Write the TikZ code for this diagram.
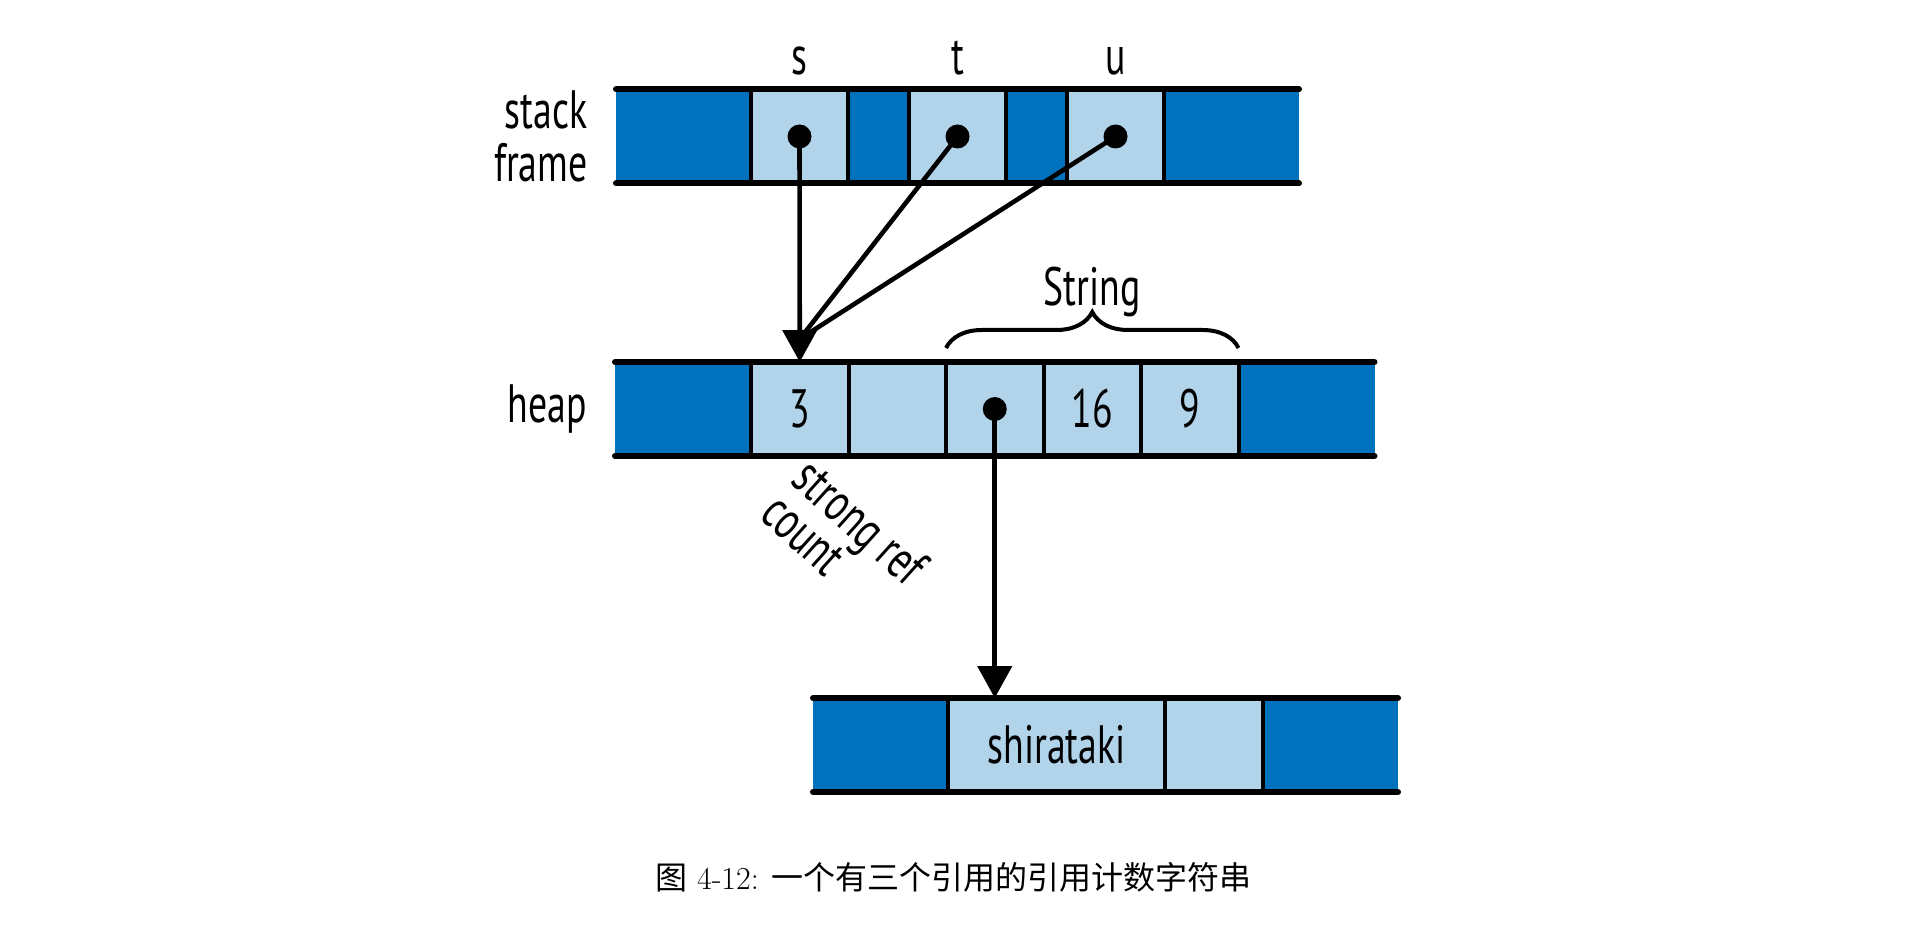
\documentclass[tikz,border=0pt]{standalone}
\usepackage{fontspec}
\newfontfamily\diagfont[FakeStretch=0.7]{PT Sans}
\newfontfamily\cjk{Noto Sans CJK SC}
\usetikzlibrary{arrows.meta, positioning, calc, decorations.pathreplacing}
\definecolor{darkcell}{RGB}{0,113,188}
\definecolor{lightcell}{RGB}{178,212,234}

\begin{document}
\begin{tikzpicture}[x=0.5pt, y=-0.5pt,
    cell/.style={inner sep=0pt, outer sep=0pt, minimum height=47pt, font=\diagfont\fontsize{27}{30}\selectfont},
    dk/.style={cell, fill=darkcell, minimum width=#1},
    lt/.style={cell, fill=lightcell, minimum width=#1},
    lbl/.style={inner sep=0pt, font=\diagfont\fontsize{27}{26.5}\selectfont},
    rowline/.style={line width=3pt, line cap=round},
    sep/.style={line width=2pt},
    dot/.style={circle, fill=black, inner sep=0pt, minimum size=12pt},
    ref/.style={line width=2.3pt},
    arr/.style={ref, -{Triangle[length=16pt, width=17pt]}},
    node distance=0pt,
]
\useasboundingbox (0,0) rectangle (1920,940);

% stack frame
\node[dk=67.5pt, anchor=west] (s1) at (616,136.5) {};
\node[lt=48.5pt, right=of s1] (s2) {};
\node[dk=30.5pt, right=of s2] (s3) {};
\node[lt=48.5pt, right=of s3] (s4) {};
\node[dk=30.5pt, right=of s4] (s5) {};
\node[lt=48.5pt, right=of s5] (s6) {};
\node[dk=67.5pt, right=of s6] (s7) {};

% heap
\node[dk=68pt, anchor=west] (h1) at (615,409) {};
\node[lt=48.75pt, right=of h1] (h2) {3};
\node[lt=48.75pt, right=of h2] (h3) {};
\node[lt=48.75pt, right=of h3] (h4) {};
\node[lt=48.75pt, right=of h4] (h5) {16};
\node[lt=48.75pt, right=of h5] (h6) {9};
\node[dk=68pt, right=of h6] (h7) {};

% string buffer
\node[dk=67.5pt, anchor=west] (b1) at (813,745) {};
\node[lt=108.5pt, right=of b1] (b2) {shirataki};
\node[lt=49pt, right=of b2] (b3) {};
\node[dk=67.5pt, right=of b3] (b4) {};

\foreach \r/\n in {s/7, h/7, b/4} {
  \draw[rowline] (\r1.north west) -- (\r\n.north east);
  \draw[rowline] (\r1.south west) -- (\r\n.south east);
}
\foreach \c in {s2,s3,s4,s5,s6,s7,h2,h3,h4,h5,h6,h7,b2,b3,b4}
  \draw[sep] (\c.north west) -- (\c.south west);

% labels
\node[lbl, align=right, left=14pt of s1] (stk) {stack\\frame};
\node[lbl, left=14pt of h1] (hp) {heap};
\node[lbl, anchor=base] (ls) at ([yshift=7.5pt]s2.north) {s};
\node[lbl, anchor=base] (lt) at ([yshift=7.5pt]s4.north) {t};
\node[lbl, anchor=base] (lu) at ([yshift=7.5pt]s6.north) {u};
\node[lbl, anchor=base] (strl) at ([yshift=28pt]h5.north) {String};
\node[lbl, align=left, rotate=-42, font=\diagfont\fontsize{27}{21}\selectfont]
  (src) at ([xshift=22.5pt, yshift=-41.5pt]h2.south) {strong ref\\count};
\draw[line width=2pt, decorate, decoration={brace, amplitude=18pt}]
  ([yshift=7pt]h4.north west) -- ([yshift=7pt]h6.north east);

% references
\node[dot] (sd) at (s2) {};
\node[dot] (td) at (s4) {};
\node[dot] (ud) at (s6) {};
\node[dot] (hd) at (h4) {};
\coordinate (meet) at ([yshift=11.5pt]h2.north);
\draw[arr] (sd.center) -- (h2.north);
\draw[ref] (td.center) -- (meet);
\draw[ref] (ud.center) -- (meet);
\draw[arr] (hd.center) -- (hd |- b2.north);

\node[anchor=base west, inner sep=0pt, font=\fontsize{16}{19}\selectfont] (cap) at (655,889)
  {{\cjk 图} 4-12: {\cjk 一个有三个引用的引用计数字符串}};

\end{tikzpicture}
\end{document}
